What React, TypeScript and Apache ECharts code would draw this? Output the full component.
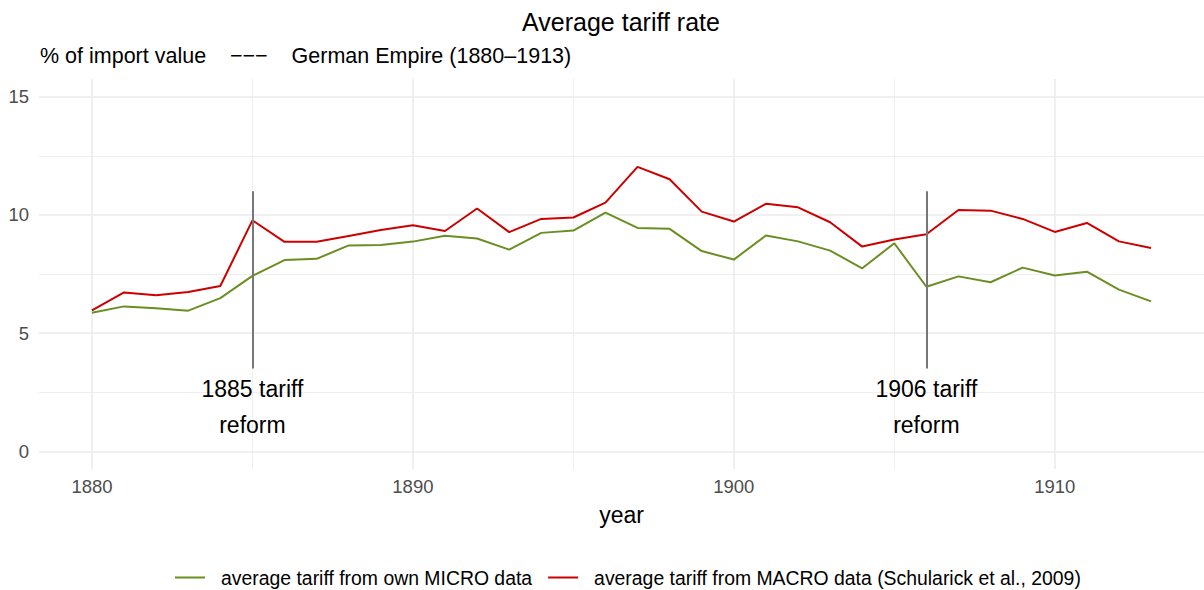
import React, { useEffect, useRef } from "react";
import * as echarts from "echarts";

const years = [1880, 1881, 1882, 1883, 1884, 1885, 1886, 1887, 1888, 1889, 1890, 1891, 1892, 1893, 1894, 1895, 1896, 1897, 1898, 1899, 1900, 1901, 1902, 1903, 1904, 1905, 1906, 1907, 1908, 1909, 1910, 1911, 1912, 1913];
const microTariff = [5.86, 6.13, 6.05, 5.95, 6.48, 7.42, 8.09, 8.14, 8.71, 8.73, 8.87, 9.12, 9.0, 8.53, 9.24, 9.34, 10.1, 9.45, 9.41, 8.47, 8.11, 9.13, 8.88, 8.49, 7.74, 8.8, 6.96, 7.4, 7.15, 7.77, 7.44, 7.6, 6.84, 6.34];
const macroTariff = [5.96, 6.72, 6.6, 6.74, 6.99, 9.77, 8.86, 8.86, 9.11, 9.36, 9.56, 9.32, 10.27, 9.27, 9.83, 9.89, 10.52, 12.03, 11.51, 10.14, 9.72, 10.47, 10.32, 9.69, 8.66, 8.96, 9.18, 10.21, 10.18, 9.83, 9.28, 9.66, 8.88, 8.6];
const reformYears = [1885, 1906];
const reformSegment = [3.5, 11];
const reformLabelY = 1.86;
const reformLabels = ["1885 tariff\nreform", "1906 tariff\nreform"];
const xMajorTicks = [1880, 1890, 1900, 1910];
const xMinorTicks = [1885, 1895, 1905];
const yMajorTicks = [0, 5, 10, 15];
const yMinorTicks = [2.5, 7.5, 12.5];
const seriesNames = [
  "average tariff from own MICRO data",
  "average tariff from MACRO data (Schularick et al., 2009)",
];
const titleText = "Average tariff rate";
const subtitleText = "% of import value    \u2212\u2212\u2212    German Empire (1880\u20131913)";

const FONT = "'Liberation Sans', Arial, Helvetica, sans-serif";
const GRID = "#EBEBEB";

export default function App() {
  const ref = useRef<HTMLDivElement>(null);
  useEffect(() => {
    if (!ref.current) return;
    const chart = echarts.init(ref.current, undefined, { renderer: "svg" });
    const xMin = 1878.35;
    const xMax = 1914.65;
    const yMin = -0.75;
    const yMax = 15.75;
    const hiddenAxisBits = {
      axisLine: { show: false },
      axisTick: { show: false },
    };
    chart.setOption({
      animation: false,
      textStyle: { fontFamily: FONT },
      grid: { left: 39, right: 0, top: 79, bottom: 121, containLabel: false },
      graphic: [
        {
          type: "text",
          x: 621,
          y: 22,
          style: {
            text: titleText,
            fontSize: 25,
            fontFamily: FONT,
            fill: "#000",
            align: "center",
            verticalAlign: "middle",
          },
        },
        {
          type: "text",
          x: 40,
          y: 56,
          style: {
            text: subtitleText,
            fontSize: 21.5,
            fontFamily: FONT,
            fill: "#000",
            align: "left",
            verticalAlign: "middle",
          },
        },
      ],
      legend: {
        top: 563,
        left: 170,
        icon: "rect",
        itemWidth: 30,
        itemHeight: 2,
        itemGap: 16,
        textStyle: { fontSize: 19.4, color: "#000", fontFamily: FONT, padding: [0, 0, 0, 11] },
        data: seriesNames,
      },
      xAxis: [
        {
          type: "value",
          min: xMin,
          max: xMax,
          ...hiddenAxisBits,
          axisTick: { show: false, customValues: xMajorTicks },
          axisLabel: {
            customValues: xMajorTicks,
            color: "#4D4D4D",
            fontSize: 18.5,
            margin: 8,
            fontFamily: FONT,
            formatter: (v: number) => String(v),
          },
          splitLine: { show: true, lineStyle: { color: GRID, width: 1.6 } },
          name: "year",
          nameLocation: "middle",
          nameGap: 34,
          nameTextStyle: { fontSize: 23, color: "#000", fontFamily: FONT },
        },
        {
          type: "value",
          min: xMin,
          max: xMax,
          position: "bottom",
          ...hiddenAxisBits,
          axisTick: { show: false, customValues: xMinorTicks },
          axisLabel: { show: false, customValues: xMinorTicks },
          splitLine: { show: true, lineStyle: { color: GRID, width: 0.8 } },
        },
      ],
      yAxis: [
        {
          type: "value",
          min: yMin,
          max: yMax,
          ...hiddenAxisBits,
          axisTick: { show: false, customValues: yMajorTicks },
          axisLabel: {
            customValues: yMajorTicks,
            color: "#4D4D4D",
            fontSize: 18.5,
            margin: 10,
            fontFamily: FONT,
            formatter: (v: number) => String(v),
          },
          splitLine: { show: true, lineStyle: { color: GRID, width: 1.6 } },
        },
        {
          type: "value",
          min: yMin,
          max: yMax,
          position: "left",
          ...hiddenAxisBits,
          axisTick: { show: false, customValues: yMinorTicks },
          axisLabel: { show: false, customValues: yMinorTicks },
          splitLine: { show: true, lineStyle: { color: GRID, width: 0.8 } },
        },
      ],
      series: [
        {
          name: seriesNames[0],
          type: "line",
          data: years.map((y, i) => [y, microTariff[i]]),
          showSymbol: false,
          symbol: "none",
          lineStyle: { color: "#6B8E23", width: 2 },
          itemStyle: { color: "#6B8E23" },
          z: 3,
        },
        {
          name: seriesNames[1],
          type: "line",
          data: years.map((y, i) => [y, macroTariff[i]]),
          showSymbol: false,
          symbol: "none",
          lineStyle: { color: "#CD0000", width: 2 },
          itemStyle: { color: "#CD0000" },
          z: 3,
          markLine: {
            silent: true,
            symbol: "none",
            label: { show: false },
            lineStyle: { color: "#777777", width: 2, type: "solid" },
            data: reformYears.map((yr) => [
              { coord: [yr, reformSegment[0]] },
              { coord: [yr, reformSegment[1]] },
            ]),
          },
          markPoint: {
            silent: true,
            symbol: "circle",
            symbolSize: 0,
            label: {
              show: true,
              position: "inside",
              color: "#000",
              fontSize: 23,
              lineHeight: 36,
              fontFamily: FONT,
              align: "center",
              verticalAlign: "middle",
              formatter: (p: any) => p.name,
            },
            data: reformYears.map((yr, i) => ({
              name: reformLabels[i],
              coord: [yr, reformLabelY],
            })),
          },
        },
      ],
    });
    return () => chart.dispose();
  }, []);
  return <div ref={ref} style={{ width: 1204, height: 590, position: "absolute", left: 0, top: 0 }} />;
}
